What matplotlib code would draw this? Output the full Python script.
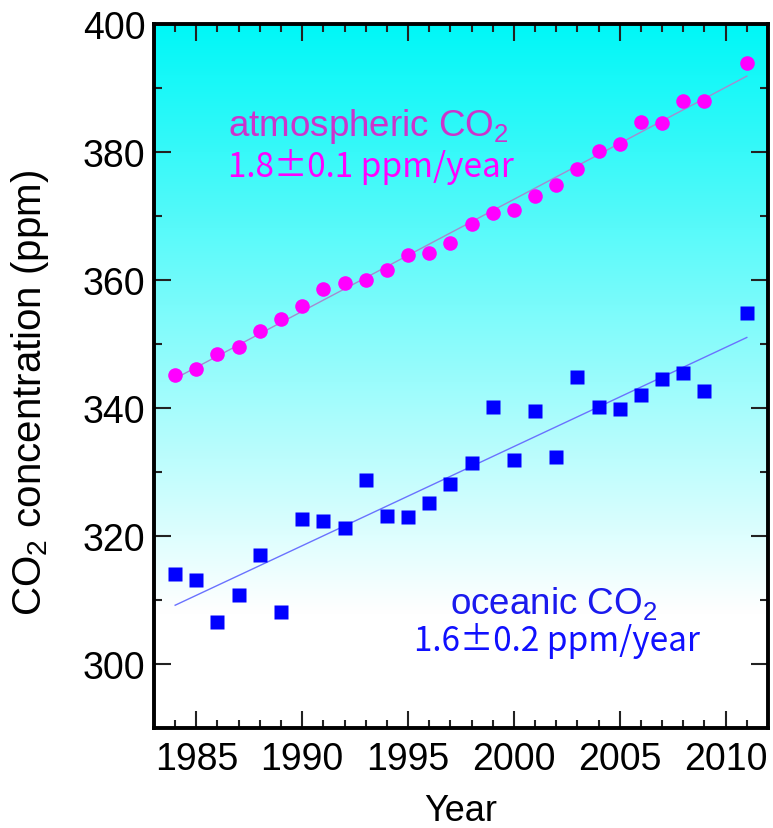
import numpy as np
import matplotlib
matplotlib.use("Agg")
import matplotlib.pyplot as plt
from matplotlib.ticker import MultipleLocator

plt.rcParams['font.family'] = ['Liberation Sans', 'DejaVu Sans']
plt.rcParams['mathtext.default'] = 'regular'

# atmospheric CO2 (ppm)
atm_years = [1984, 1985, 1986, 1987, 1988, 1989, 1990, 1991, 1992, 1993, 1994,
             1995, 1996, 1997, 1998, 1999, 2000, 2001, 2002, 2003, 2004, 2005,
             2006, 2007, 2008, 2009, 2011]
atm_co2 = [345.1, 346.1, 348.5, 349.6, 352.1, 353.9, 356.0, 358.6, 359.5, 360.0,
           361.6, 363.9, 364.2, 365.8, 368.7, 370.4, 370.9, 373.2, 374.8, 377.3,
           380.1, 381.2, 384.7, 384.6, 387.9, 387.9, 393.9]

# oceanic CO2 (ppm)
ocn_years = atm_years
ocn_co2 = [314.0, 313.2, 306.5, 310.8, 317.0, 308.1, 322.6, 322.4, 321.2, 328.7,
           323.1, 322.9, 325.1, 328.1, 331.4, 340.1, 331.9, 339.5, 332.4, 344.9,
           340.2, 339.8, 342.1, 344.6, 345.4, 342.6, 354.9]

fig = plt.figure(figsize=(7.73, 8.29), dpi=100)
ax = fig.add_axes([0.1992, 0.1206, 0.7943, 0.8492])
ax.set_xlim(1983, 2012)
ax.set_ylim(290, 400)

# cyan -> white background
ppm = np.linspace(400, 290, 300)
f = np.clip((400 - ppm) / 92.0, 0, 1)[:, None]
top = np.array([0.0, 0.97, 0.97])
grad = top * (1 - f[..., None]) + 1.0 * f[..., None]
ax.imshow(grad, extent=[1983, 2012, 290, 400], aspect='auto', zorder=0,
          interpolation='bilinear')

# linear trends
yrs = np.array(atm_years)
p_atm = np.polyfit(yrs, atm_co2, 1)
p_ocn = np.polyfit(np.array(ocn_years), ocn_co2, 1)
xl = np.array([1984, 2011])
ax.plot(xl, np.polyval(p_atm, xl), color='#a58ad0', lw=1.0, zorder=2)
ax.plot(xl, np.polyval(p_ocn, xl), color='#6a72ff', lw=1.0, zorder=2)

ax.plot(atm_years, atm_co2, 'o', color='#ff00ff', ms=10.5, mec='none', zorder=3)
ax.plot(ocn_years, ocn_co2, 's', color='#0000ff', ms=9.5, mec='none', zorder=3)

# labels
ax.text(1986.5, 382.6, 'atmospheric CO$_2$', color='#cc33cc', fontsize=26.5)
ax.text(1986.5, 376.3, '1.8\u00b10.1 ppm/year', color='#ff00ff', fontsize=24,
        family=['Noto Sans CJK JP', 'DejaVu Sans'])
ax.text(1997.0, 308.0, 'oceanic CO$_2$', color='#1a1aee', fontsize=26.5)
ax.text(1995.3, 302.2, '1.6\u00b10.2 ppm/year', color='#1010ff', fontsize=24,
        family=['Noto Sans CJK JP', 'DejaVu Sans'])

ax.set_xlabel('Year', fontsize=26, labelpad=12)
ax.set_ylabel('CO$_2$ concentration (ppm)', fontsize=29)
ax.yaxis.set_label_coords(-0.168, 0.478)

ax.xaxis.set_major_locator(MultipleLocator(5))
ax.xaxis.set_minor_locator(MultipleLocator(1))
ax.yaxis.set_major_locator(MultipleLocator(20))
ax.yaxis.set_minor_locator(MultipleLocator(10))
ax.tick_params(which='both', direction='in', top=True, right=True, width=1.5,
               color='#222222')
ax.tick_params(which='major', length=12, labelsize=27, pad=9)
ax.tick_params(axis='y', which='major', pad=6)
ax.tick_params(which='minor', length=6)
for s in ax.spines.values():
    s.set_linewidth(2.8)

fig.savefig('out.png', dpi=100)
